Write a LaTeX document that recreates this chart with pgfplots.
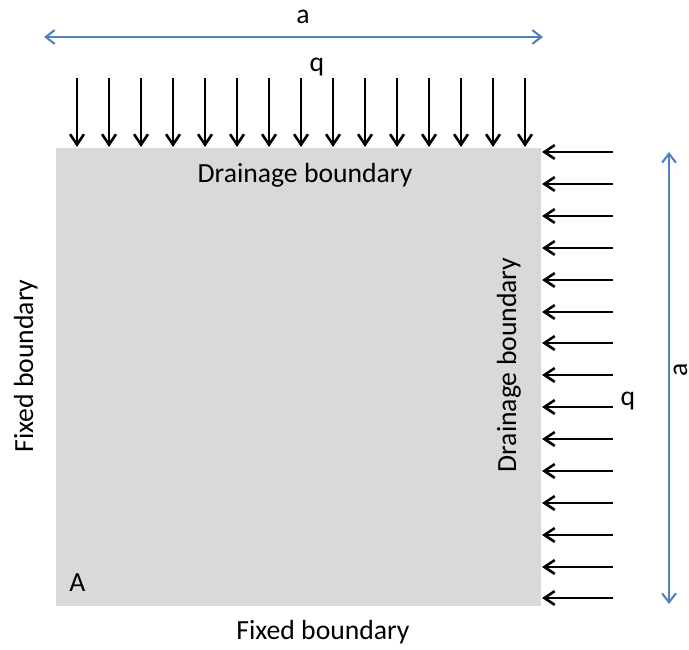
\documentclass[border=0pt]{standalone}
\usepackage{pgfplots}
\pgfplotsset{compat=1.18}
\usepackage{pgfplotstable}
\usepackage{fontspec}
\setmainfont{Carlito}
\usetikzlibrary{arrows.meta}
\definecolor{boxgray}{HTML}{D9D9D9}
\definecolor{dimblue}{HTML}{4F81BD}

% downward loads on top edge: x y u v (pixel units, y downward)
\pgfplotstableread{
x y u v
77 78 0 69
109 78 0 69
141 78 0 69
173 78 0 69
205 78 0 69
237 78 0 69
269 78 0 69
301 78 0 69
333 78 0 69
365 78 0 69
397 78 0 69
429 78 0 69
461 78 0 69
493 78 0 69
525 78 0 69
}\toploads

% leftward loads on right edge
\pgfplotstableread{
x y u v
613 152 -71 0
613 184 -71 0
613 216 -71 0
613 248 -71 0
613 280 -71 0
613 312 -71 0
613 343 -71 0
613 375 -71 0
613 407 -71 0
613 439 -71 0
613 471 -71 0
613 503 -71 0
613 535 -71 0
613 567 -71 0
613 598 -71 0
}\rightloads

\begin{document}
\begin{tikzpicture}
\begin{axis}[
  scale only axis, width=6.89in, height=6.5in,
  xmin=0, xmax=689, ymin=0, ymax=650, y dir=reverse,
  hide axis, clip=false,
]
\coordinate (bl) at (axis cs:0,650);
\coordinate (tr) at (axis cs:689,0);
% domain
\addplot[fill=boxgray, draw=none] coordinates {(56,148) (541,148) (541,606.5) (56,606.5)} --cycle;
% loads
\addplot[black, line width=1.9pt, -{Straight Barb[length=7.5pt,width=10pt]},
  quiver={u=\thisrow{u}, v=\thisrow{v}}] table {\toploads};
\addplot[black, line width=1.9pt, -{Straight Barb[length=7.5pt,width=10pt]},
  quiver={u=\thisrow{u}, v=\thisrow{v}}] table {\rightloads};
% dimension lines
\addplot[dimblue, line width=1.5pt, {Straight Barb[length=6.5pt,width=10pt]}-{Straight Barb[length=6.5pt,width=10pt]}]
  coordinates {(44,37) (543,37)};
\addplot[dimblue, line width=1.5pt, {Straight Barb[length=6.5pt,width=10pt]}-{Straight Barb[length=6.5pt,width=10pt]}]
  coordinates {(669,152) (669,604)};
% labels
\begin{scope}[every node/.style={font=\fontsize{20}{24}\selectfont, text=black, inner sep=0pt}]
\node[anchor=base] at (axis cs:303,24) {a};
\node[anchor=base] at (axis cs:317,72) {q};
\node[anchor=base] at (axis cs:305,183) {Drainage boundary};
\node[anchor=base, rotate=90] at (axis cs:33,366) {Fixed boundary};
\node[anchor=base, rotate=90] at (axis cs:516,365) {Drainage boundary};
\node[anchor=base] at (axis cs:628,406) {q};
\node[anchor=base] at (axis cs:77.5,591.5) {A};
\node[anchor=base] at (axis cs:323,640) {Fixed boundary};
\node[anchor=base, rotate=90] at (axis cs:687,370) {a};
\end{scope}
\end{axis}
\pgfresetboundingbox
\path[use as bounding box] (bl) rectangle (tr);
\end{tikzpicture}
\end{document}
